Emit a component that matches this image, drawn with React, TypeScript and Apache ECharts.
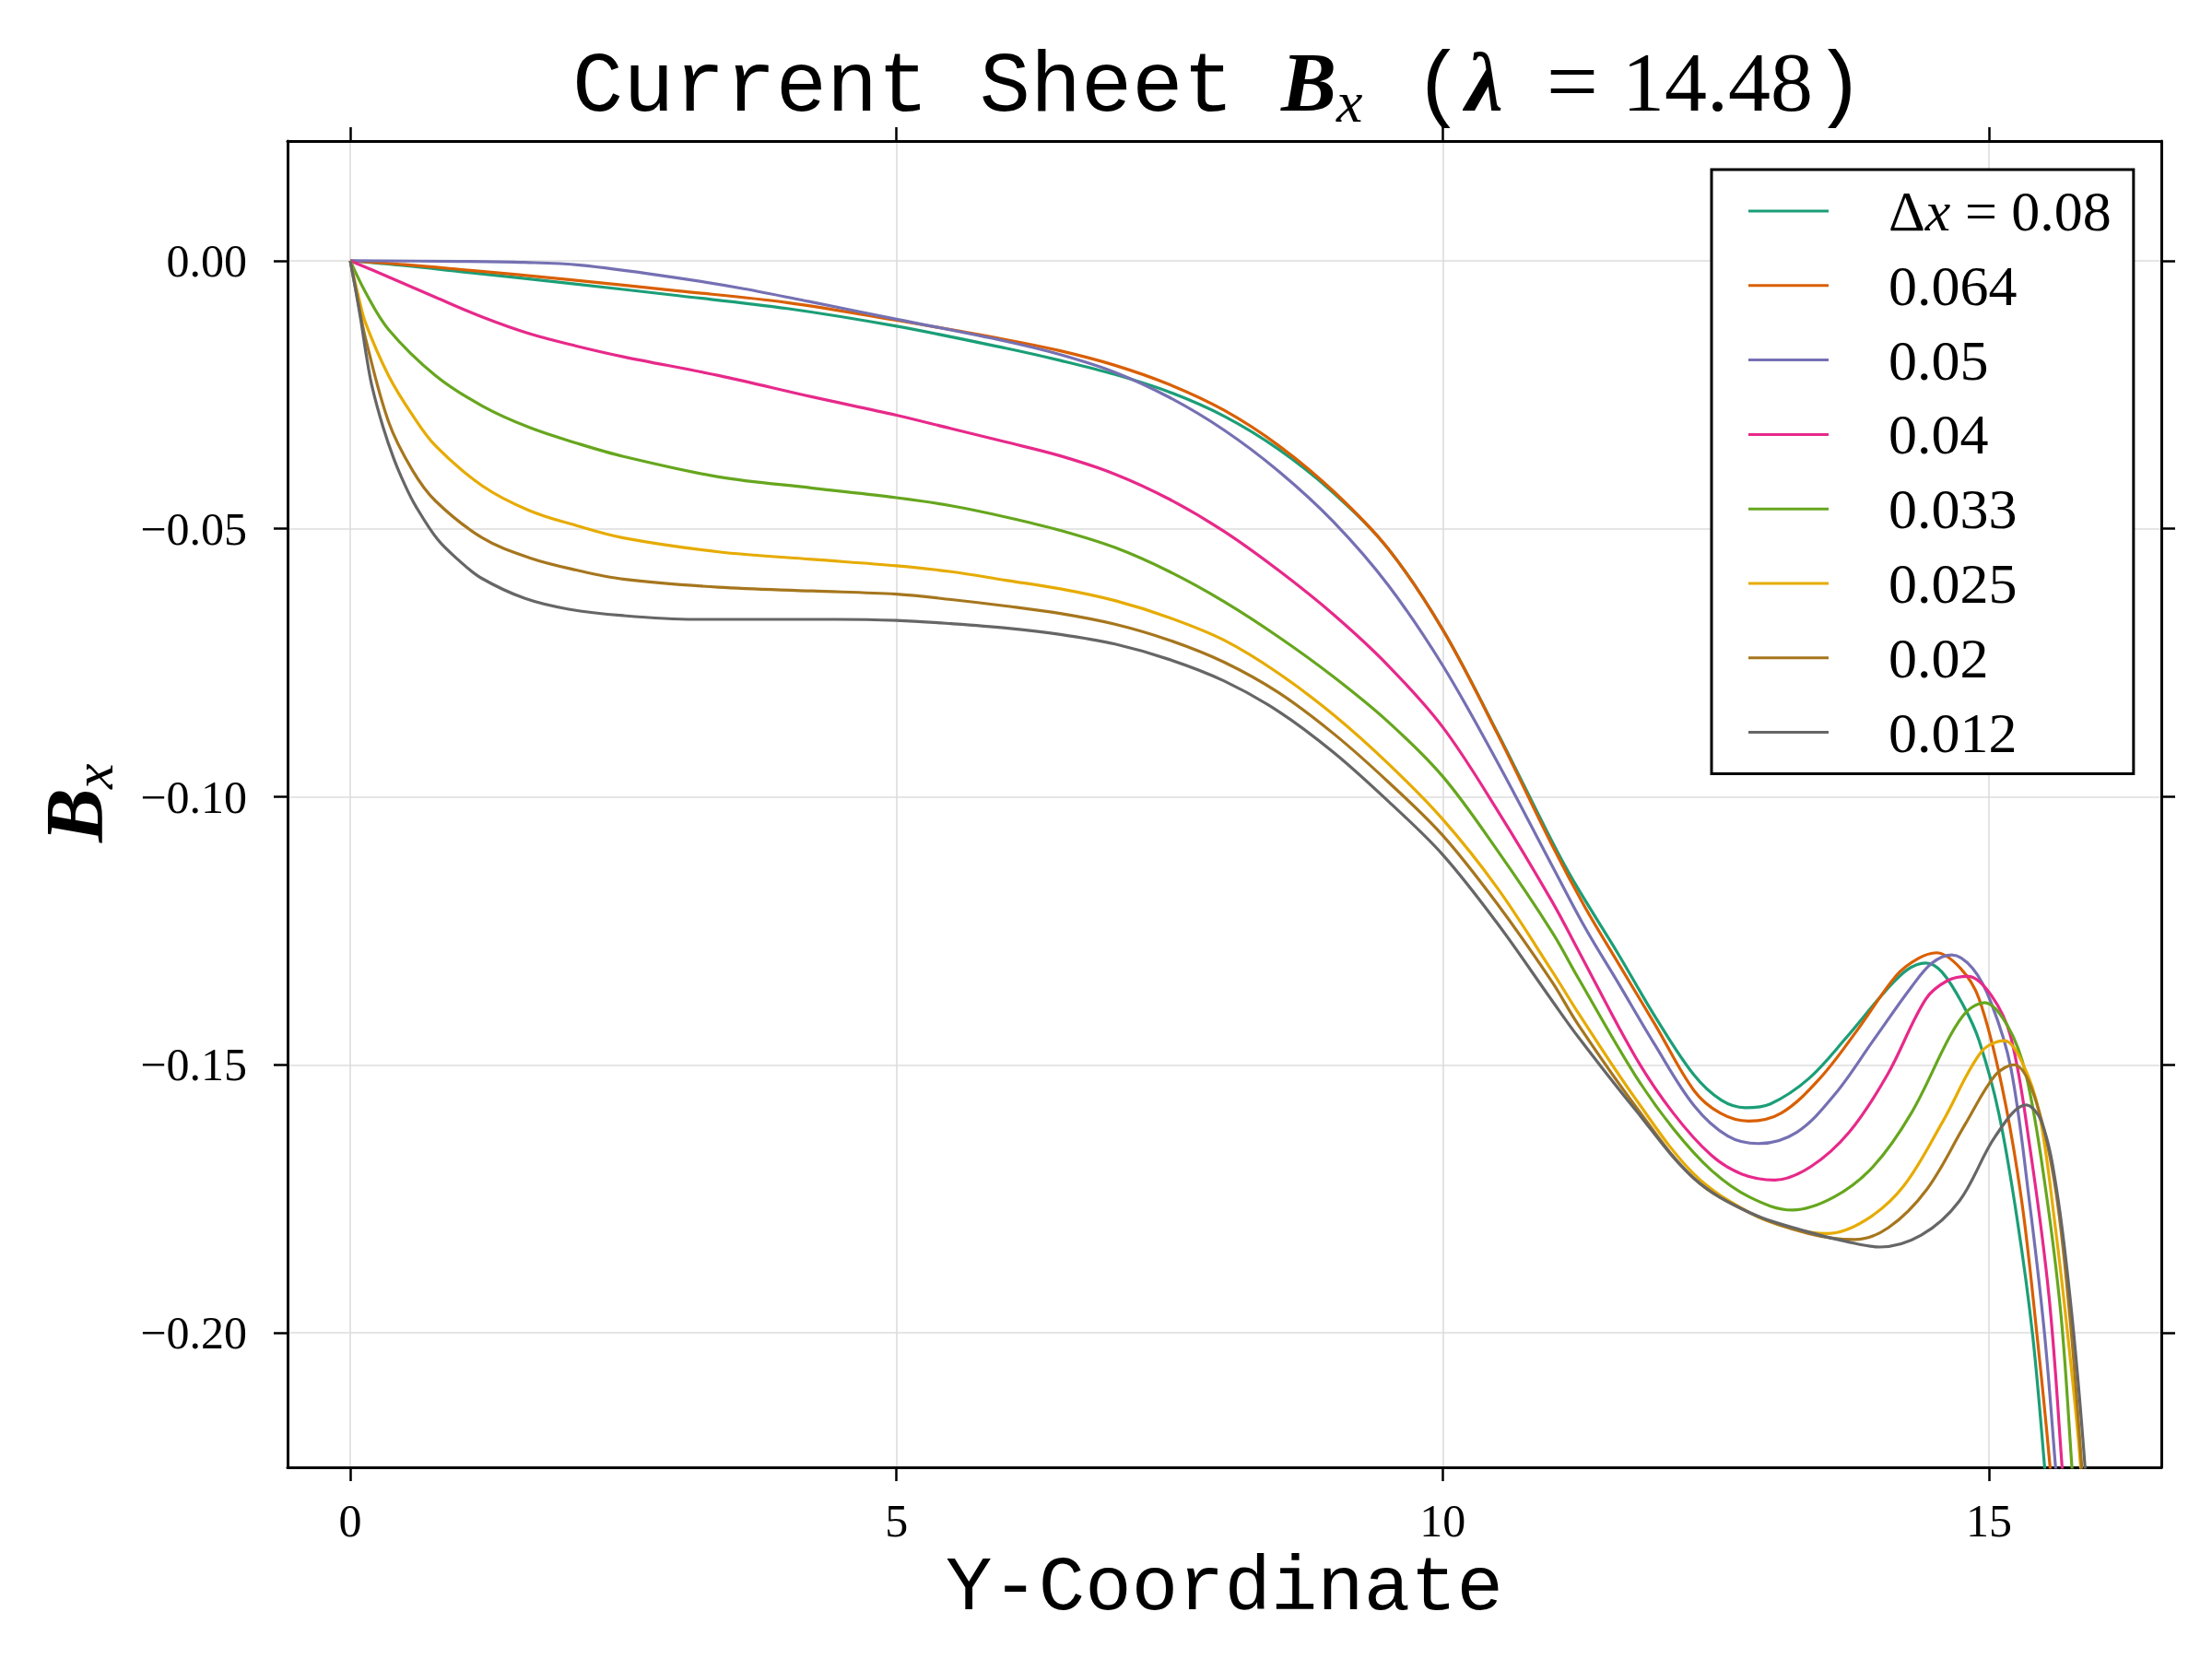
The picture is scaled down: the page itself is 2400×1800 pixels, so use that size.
import React, { useEffect, useRef } from "react";
import * as echarts from "echarts";

// ---------- data ----------
const xTicks = [0, 5, 10, 15];
const yTicks = [0, -0.05, -0.1, -0.15, -0.2];
const xRange = [-0.574, 16.578];
const yRange = [-0.2251, 0.02235];

const seriesNames = ["Δx = 0.08", "0.064", "0.05", "0.04", "0.033", "0.025", "0.02", "0.012"];
const seriesColors = ["#1b9e77", "#d95f02", "#7570b3", "#e7298a", "#66a61e", "#e6ab02", "#a6761d", "#666666"];

const dx080 = [[0,0],[0.5,-0.0009],[1.0,-0.0020],[2.0,-0.0042],[3.0,-0.0065],[4.0,-0.0089],[5.0,-0.0122],[6.0,-0.0163],[6.5,-0.0186],[7.0,-0.0212],[7.5,-0.0245],[8.0,-0.0290],[8.5,-0.0352],[9.0,-0.0433],[9.5,-0.0537],[10.0,-0.0688],[10.5,-0.0880],[11.0,-0.1083],[11.2,-0.1158],[11.6,-0.1291],[11.95,-0.1412],[12.3,-0.1519],[12.55,-0.1566],[12.77,-0.1580],[13.0,-0.1573],[13.35,-0.1526],[13.7,-0.1448],[14.05,-0.1363],[14.25,-0.1323],[14.42,-0.1310],[14.57,-0.1327],[14.77,-0.1391],[14.91,-0.1455],[15.09,-0.1590],[15.26,-0.1790],[15.4,-0.2004],[15.51,-0.2251],[15.6,-0.248]];
const dx064 = [[0,0],[0.5,-0.0007],[1.0,-0.0016],[2.0,-0.0035],[3.0,-0.0056],[4.0,-0.0078],[5.0,-0.0111],[6.0,-0.0147],[6.5,-0.0168],[7.0,-0.0195],[7.5,-0.0231],[8.0,-0.0279],[8.5,-0.0345],[9.0,-0.0430],[9.5,-0.0537],[10.0,-0.0688],[10.5,-0.0882],[11.0,-0.1090],[11.3,-0.1205],[11.6,-0.1308],[11.95,-0.1427],[12.3,-0.1548],[12.54,-0.1590],[12.8,-0.1605],[13.1,-0.1590],[13.45,-0.1526],[13.8,-0.1434],[14.15,-0.1334],[14.35,-0.1302],[14.52,-0.1291],[14.74,-0.1320],[14.91,-0.1377],[15.12,-0.1541],[15.3,-0.1754],[15.44,-0.2004],[15.56,-0.2251],[15.65,-0.248]];
const dx050 = [[0,0],[1.0,-0.0001],[1.6,-0.0003],[2.1,-0.0008],[2.9,-0.0029],[3.6,-0.0052],[4.2,-0.0076],[5.0,-0.0109],[6.0,-0.0150],[6.5,-0.0175],[7.0,-0.0208],[7.5,-0.0255],[8.0,-0.0316],[8.5,-0.0393],[9.0,-0.0487],[9.5,-0.0605],[10.0,-0.0755],[10.5,-0.0935],[11.0,-0.1128],[11.3,-0.1243],[11.6,-0.1345],[11.94,-0.1462],[12.3,-0.1576],[12.61,-0.1633],[12.89,-0.1647],[13.24,-0.1626],[13.59,-0.1555],[13.94,-0.1455],[14.29,-0.1355],[14.48,-0.1310],[14.66,-0.1295],[14.85,-0.1320],[15.02,-0.1384],[15.2,-0.1505],[15.37,-0.1754],[15.51,-0.2004],[15.61,-0.2251],[15.7,-0.248]];
const dx040 = [[0,0],[0.35,-0.0030],[0.78,-0.0068],[1.21,-0.0105],[1.64,-0.0136],[2.07,-0.0159],[2.5,-0.0179],[3.37,-0.0214],[4.23,-0.0254],[5.0,-0.0288],[5.5,-0.0313],[6.0,-0.0338],[6.5,-0.0364],[7.0,-0.0398],[7.5,-0.0445],[8.0,-0.0505],[8.5,-0.0578],[9.0,-0.0660],[9.5,-0.0755],[10.0,-0.0870],[10.5,-0.1025],[11.0,-0.1195],[11.25,-0.1290],[11.76,-0.1484],[12.11,-0.1590],[12.46,-0.1669],[12.74,-0.1704],[13.04,-0.1715],[13.37,-0.1690],[13.72,-0.1626],[14.07,-0.1519],[14.42,-0.1378],[14.62,-0.1343],[14.81,-0.1335],[15.02,-0.1370],[15.2,-0.1448],[15.37,-0.1647],[15.55,-0.1932],[15.67,-0.2251],[15.75,-0.248]];
const dx033 = [[0,0],[0.14,-0.0059],[0.35,-0.0128],[0.78,-0.0214],[1.21,-0.0271],[1.64,-0.0311],[2.07,-0.0340],[2.5,-0.0365],[3.37,-0.0403],[4.23,-0.0424],[5.0,-0.0442],[5.5,-0.0457],[6.0,-0.0478],[6.5,-0.0503],[7.0,-0.0535],[7.5,-0.0580],[8.0,-0.0636],[8.5,-0.0702],[9.0,-0.0776],[9.5,-0.0860],[10.0,-0.0962],[10.5,-0.1100],[11.0,-0.1252],[11.24,-0.1338],[11.76,-0.1519],[12.11,-0.1619],[12.46,-0.1697],[12.81,-0.1747],[13.2,-0.1771],[13.58,-0.1747],[13.94,-0.1690],[14.29,-0.1590],[14.64,-0.1448],[14.8,-0.1400],[14.96,-0.1384],[15.17,-0.1427],[15.34,-0.1519],[15.51,-0.1719],[15.66,-0.1968],[15.76,-0.2251],[15.84,-0.248]];
const dx025 = [[0,0],[0.07,-0.0062],[0.14,-0.0116],[0.35,-0.0214],[0.57,-0.0288],[0.78,-0.0345],[1.21,-0.0420],[1.64,-0.0466],[2.07,-0.0494],[2.5,-0.0517],[3.37,-0.0543],[4.23,-0.0557],[5.0,-0.0569],[5.5,-0.0580],[6.0,-0.0596],[6.5,-0.0612],[7.0,-0.0634],[7.5,-0.0666],[8.0,-0.0708],[8.5,-0.0770],[9.0,-0.0847],[9.5,-0.0938],[10.0,-0.1042],[10.5,-0.1170],[11.0,-0.1325],[11.24,-0.1403],[11.76,-0.1562],[12.3,-0.1704],[12.81,-0.1776],[13.17,-0.1804],[13.52,-0.1815],[13.87,-0.1790],[14.22,-0.1726],[14.58,-0.1605],[14.93,-0.1476],[15.14,-0.1455],[15.31,-0.1498],[15.46,-0.1590],[15.6,-0.1790],[15.74,-0.2039],[15.84,-0.2251],[15.9,-0.248]];
const dx020 = [[0,0],[0.07,-0.0075],[0.14,-0.0145],[0.35,-0.0300],[0.57,-0.0391],[0.78,-0.0448],[1.21,-0.0517],[1.64,-0.0554],[2.07,-0.0577],[2.5,-0.0594],[3.37,-0.0609],[4.23,-0.0616],[5.0,-0.0622],[5.5,-0.0632],[6.0,-0.0644],[6.5,-0.0658],[7.0,-0.0678],[7.5,-0.0708],[8.0,-0.0749],[8.5,-0.0806],[9.0,-0.0882],[9.5,-0.0972],[10.0,-0.1072],[10.5,-0.1200],[11.0,-0.1345],[11.24,-0.1425],[11.76,-0.1576],[12.3,-0.1712],[12.81,-0.1776],[13.35,-0.1815],[13.77,-0.1826],[14.08,-0.1804],[14.43,-0.1733],[14.78,-0.1612],[15.06,-0.1519],[15.23,-0.1500],[15.41,-0.1555],[15.6,-0.1719],[15.74,-0.1968],[15.85,-0.2251],[15.92,-0.248]];
const dx012 = [[0,0],[0.05,-0.0055],[0.1,-0.0115],[0.15,-0.0180],[0.2,-0.0235],[0.3,-0.0310],[0.4,-0.0370],[0.5,-0.0418],[0.6,-0.0458],[0.8,-0.0520],[1.0,-0.0560],[1.2,-0.0592],[1.6,-0.0630],[2.0,-0.0650],[2.5,-0.0662],[3.15,-0.0669],[3.8,-0.0669],[4.44,-0.0669],[5.0,-0.0671],[5.5,-0.0677],[6.0,-0.0685],[6.5,-0.0697],[7.0,-0.0715],[7.5,-0.0744],[8.0,-0.0784],[8.5,-0.0841],[9.0,-0.0917],[9.5,-0.1008],[10.0,-0.1108],[10.5,-0.1236],[11.0,-0.1380],[11.24,-0.1448],[11.76,-0.1583],[12.3,-0.1712],[12.81,-0.1776],[13.33,-0.1811],[13.7,-0.1830],[14.0,-0.1840],[14.38,-0.1818],[14.73,-0.1754],[15.06,-0.1633],[15.34,-0.1575],[15.48,-0.1605],[15.62,-0.1733],[15.76,-0.1968],[15.88,-0.2251],[15.95,-0.248]];

const seriesData = [dx080, dx064, dx050, dx040, dx033, dx025, dx020, dx012];

// ---------- styles ----------
const SERIF = '"Liberation Serif", "Times New Roman", serif';
const MONO = '"Liberation Mono", "Courier New", monospace';

function yFmt(v: number): string {
  if (Math.abs(v) < 1e-9) return "0.00";
  return (v < 0 ? "\u2212" : "") + Math.abs(v).toFixed(2);
}

function txt(text: string, x: number, y: number, font: string, align: string, extra: any = {}) {
  return {
    type: "text",
    x,
    y,
    z: 100,
    ...extra,
    style: {
      text,
      font,
      fill: "#000",
      textAlign: align,
      align,
      textVerticalAlign: "middle",
      verticalAlign: "middle",
    },
  };
}

export default function App() {
  const ref = useRef<HTMLDivElement>(null);

  useEffect(() => {
    if (!ref.current) return;
    const chart = echarts.init(ref.current, null, { renderer: "svg" });

    const axisLine = { show: true, onZero: false, lineStyle: { color: "#000", width: 3 } };
    const tickStyle = { color: "#000", width: 2.5 };
    const gridLine = { show: true, lineStyle: { color: "#dcdcdc", width: 1.6 } };
    const labelFont = { fontFamily: SERIF, fontSize: 50, color: "#000" };

    const series: any[] = seriesData.map((d, i) => ({
      name: seriesNames[i],
      type: "line",
      data: d,
      smooth: 0.35,
      symbol: "none",
      showSymbol: false,
      clip: true,
      z: 2 + i,
      lineStyle: { color: seriesColors[i], width: 3.2 },
      itemStyle: { color: seriesColors[i] },
    }));

    const option: any = {
      animation: false,
      backgroundColor: "#fff",
      grid: { left: 312, right: 55, top: 153, bottom: 208, containLabel: false },
      xAxis: [
        {
          type: "value",
          min: xRange[0],
          max: xRange[1],
          position: "bottom",
          axisLine,
          axisTick: { show: true, inside: false, length: 15, lineStyle: tickStyle, customValues: xTicks },
          axisLabel: { show: true, customValues: xTicks, margin: 33, formatter: (v: number) => String(v), ...labelFont },
          splitLine: gridLine,
          name: "Y-Coordinate",
          nameLocation: "middle",
          nameGap: 89,
          nameTextStyle: { fontFamily: MONO, fontSize: 84, color: "#000" },
        },
        {
          type: "value",
          min: xRange[0],
          max: xRange[1],
          position: "top",
          axisLine,
          axisTick: { show: true, inside: false, length: 15, lineStyle: tickStyle, customValues: xTicks },
          axisLabel: { show: false },
          splitLine: { show: false },
        },
      ],
      yAxis: [
        {
          type: "value",
          min: yRange[0],
          max: yRange[1],
          position: "left",
          axisLine,
          axisTick: { show: true, inside: false, length: 15, lineStyle: tickStyle, customValues: yTicks },
          axisLabel: { show: true, customValues: yTicks, margin: 44, formatter: yFmt, ...labelFont },
          splitLine: gridLine,
        },
        {
          type: "value",
          min: yRange[0],
          max: yRange[1],
          position: "right",
          axisLine,
          axisTick: { show: true, inside: false, length: 15, lineStyle: tickStyle, customValues: yTicks },
          axisLabel: { show: false },
          splitLine: { show: false },
        },
      ],
      legend: {
        show: true,
        orient: "vertical",
        left: 1857,
        top: 184,
        data: seriesNames,
        selectedMode: false,
        icon: "rect",
        backgroundColor: "#fff",
        borderColor: "#000",
        borderWidth: 3,
        borderRadius: 0,
        padding: [14, 24, 14, 40],
        itemWidth: 87,
        itemHeight: 3,
        itemGap: 18.8,
        formatter: (name: string) =>
          name.startsWith("Δx") ? "{n|Δ}{i|x}{n|" + name.slice(2) + "}" : name,
        textStyle: {
          fontFamily: SERIF,
          fontSize: 62,
          lineHeight: 62,
          color: "#000",
          padding: [0, 0, 0, 60],
          rich: {
            n: { fontFamily: SERIF, fontSize: 62, lineHeight: 62, color: "#000" },
            i: { fontFamily: SERIF, fontSize: 62, lineHeight: 62, fontStyle: "italic", color: "#000" },
          },
        },
      },
      graphic: [
        // title: Current Sheet B_x (λ = 14.48)
        txt("Current Sheet", 621, 120 - 0.2665 * 92, `92px ${MONO}`, "left"),
        txt("B", 1390, 120 - 0.3375 * 90, `italic bold 90px ${SERIF}`, "left"),
        txt("x", 1450, 132 - 0.3375 * 64, `italic 64px ${SERIF}`, "left"),
        txt("(", 1561, 120 - 0.2665 * 92, `92px ${MONO}`, "center"),
        txt("λ", 1590, 120 - 0.3375 * 92, `italic bold 92px ${SERIF}`, "left"),
        txt("=", 1706, 122 - 0.3375 * 100, `100px ${SERIF}`, "center"),
        txt("14.48", 1760, 120 - 0.3375 * 92, `92px ${SERIF}`, "left"),
        txt(")", 1968, 120 - 0.2665 * 92, `92px ${MONO}`, "left"),
        // y-axis name: B_x rotated
        txt("B", 110 - 0.3375 * 88, 914, `italic bold 88px ${SERIF}`, "left", { rotation: Math.PI / 2 }),
        txt("x", 122 - 0.3375 * 62, 856, `italic 62px ${SERIF}`, "left", { rotation: Math.PI / 2 }),
      ],
      series,
    };

    chart.setOption(option);
    return () => chart.dispose();
  }, []);

  return (
    <div
      ref={ref}
      style={{ position: "fixed", left: 0, top: 0, width: 2400, height: 1800, background: "#fff" }}
    />
  );
}
